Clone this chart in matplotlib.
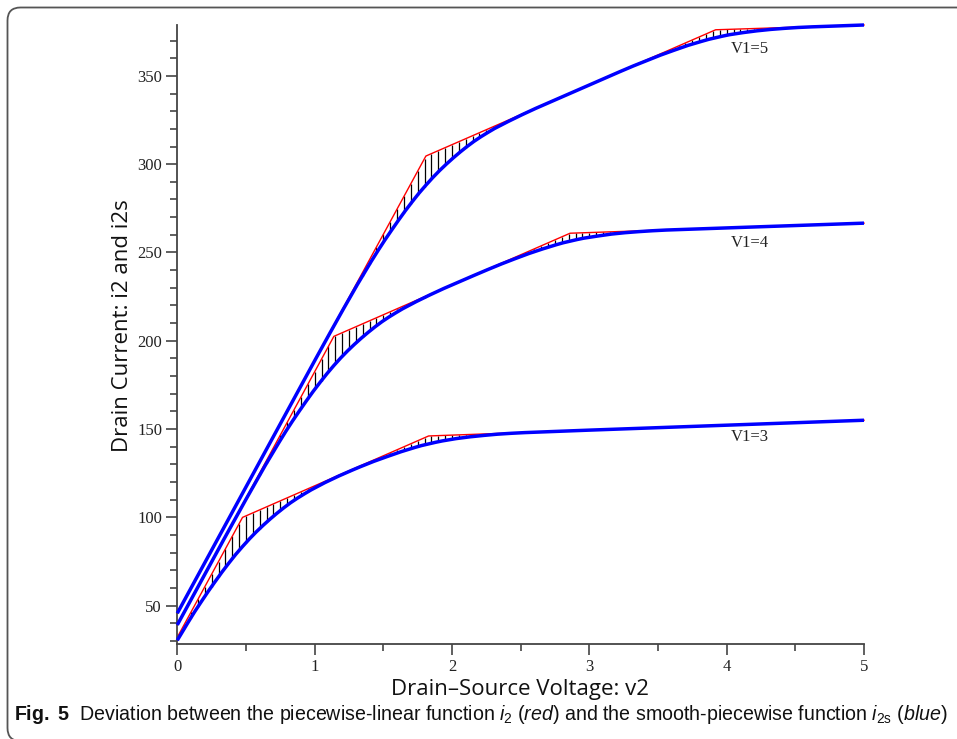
import matplotlib
matplotlib.use("Agg")
import numpy as np
import matplotlib.pyplot as plt
from matplotlib.patches import FancyBboxPatch
from matplotlib.ticker import MultipleLocator
from matplotlib import font_manager

# ========= data: piecewise-linear i2 (red) =========
v2_red_3 = [0.0, 0.475, 1.83, 5.0]
i2_red_3 = [32.1, 100.0, 146.1, 155.0]
v2_red_4 = [0.0, 1.14, 2.86, 5.0]
i2_red_4 = [39.1, 202.5, 260.9, 266.6]
v2_red_5 = [0.0, 1.81, 3.92, 5.0]
i2_red_5 = [45.7, 304.6, 376.1, 378.8]

# ========= data: smooth-piecewise i2s (blue) =========
v2_blue_3 = [0, 0.075, 0.125, 0.175, 0.225, 0.275, 0.325, 0.375, 0.425, 0.475,
             0.525, 0.575, 0.625, 0.675, 0.725, 0.775, 0.825, 0.875, 0.925, 0.975,
             1.075, 1.175, 1.275, 1.33, 1.43, 1.53, 1.63, 1.73, 1.78, 1.83,
             1.88, 1.93, 2.03, 2.13, 2.23, 2.33, 2.43, 2.53, 3.0, 4.0, 5.0]
i2s_blue_3 = [30.4, 40.1, 46.4, 52.3, 58.1, 63.6, 69.0, 74.1, 79.0, 83.5,
              87.8, 91.8, 95.5, 99.0, 102.3, 105.4, 108.3, 110.9, 113.3, 115.6,
              119.7, 123.4, 126.8, 128.6, 131.7, 134.5, 137.2, 139.6, 140.7, 141.6,
              142.5, 143.3, 144.6, 145.6, 146.4, 147.1, 147.6, 148.0, 149.4, 152.2, 155.0]

v2_blue_4 = [0, 0.34, 0.5, 0.64, 0.74, 0.79, 0.84, 0.89, 0.94, 0.99,
             1.04, 1.09, 1.14, 1.19, 1.24, 1.29, 1.34, 1.39, 1.44, 1.49,
             1.54, 1.59, 1.64, 1.74, 1.84, 1.94, 2.16, 2.26, 2.36, 2.46,
             2.56, 2.66, 2.76, 2.81, 2.86, 2.91, 2.96, 3.06, 3.16, 3.26,
             3.36, 3.46, 3.56, 4.0, 5.0]
i2s_blue_4 = [39.1, 87.7, 110.2, 129.4, 142.4, 148.7, 154.7, 160.4, 166.0, 171.4,
              176.5, 181.4, 186.0, 190.3, 194.3, 198.0, 201.5, 204.8, 207.9, 210.8,
              213.4, 215.8, 218.1, 222.2, 226.0, 229.6, 237.0, 240.3, 243.5, 246.5,
              249.4, 252.0, 254.4, 255.5, 256.4, 257.3, 258.1, 259.3, 260.4, 261.2,
              261.8, 262.3, 262.7, 263.9, 266.6]

v2_blue_5 = [0, 0.9, 1.01, 1.11, 1.21, 1.31, 1.36, 1.41, 1.46, 1.51,
             1.56, 1.61, 1.66, 1.71, 1.76, 1.81, 1.86, 1.91, 1.96, 2.01,
             2.06, 2.11, 2.16, 2.21, 2.26, 2.31, 2.41, 2.51, 2.61, 3.22,
             3.32, 3.42, 3.52, 3.62, 3.72, 3.82, 3.87, 3.92, 3.97, 4.02,
             4.12, 4.22, 4.32, 4.42, 4.52, 4.62, 5.0]
i2s_blue_5 = [45.7, 174.4, 190.1, 204.2, 218.1, 231.7, 238.2, 244.7, 250.9, 256.9,
              262.6, 268.2, 273.6, 278.7, 283.6, 288.1, 292.4, 296.4, 300.1, 303.6,
              306.9, 310.0, 312.9, 315.5, 317.9, 320.2, 324.2, 328.0, 331.6, 352.3,
              355.6, 358.7, 361.8, 364.6, 367.3, 369.6, 370.7, 371.6, 372.5, 373.3,
              374.5, 375.5, 376.3, 376.9, 377.4, 377.75, 378.8]

curve_labels = ["V1=3", "V1=4", "V1=5"]
label_pos = [(4.17, 145.5), (4.17, 255.4), (4.17, 365.3)]

x_ticks = [0, 1, 2, 3, 4, 5]
y_ticks = [50, 100, 150, 200, 250, 300, 350]

# ========= fonts =========
plt.rcParams["font.family"] = "Liberation Serif"
try:
    font_manager.findfont("Liberation Sans Narrow", fallback_to_default=False)
    cap_font = "Liberation Sans Narrow"
    cap_size = 16
except ValueError:
    cap_font = "Liberation Sans"
    cap_size = 14.1
plt.rcParams["mathtext.fontset"] = "custom"
plt.rcParams["mathtext.rm"] = cap_font
plt.rcParams["mathtext.it"] = cap_font + ":italic"
plt.rcParams["mathtext.bf"] = cap_font + ":bold"

W, H = 957, 739
fig = plt.figure(figsize=(W / 100, H / 100), dpi=100)
ax = fig.add_axes([177.3 / W, (H - 644) / H, (864 - 177.3) / W, (644 - 25) / H])

# ========= curves =========
curves = [
    (v2_red_3, i2_red_3, v2_blue_3, i2s_blue_3),
    (v2_red_4, i2_red_4, v2_blue_4, i2s_blue_4),
    (v2_red_5, i2_red_5, v2_blue_5, i2s_blue_5),
]
hatch_x = np.arange(0, 5.0001, 0.05)

for xr, yr, xb, yb in curves:
    top = np.interp(hatch_x, xr, yr)
    bot = np.interp(hatch_x, xb, yb)
    m = (top - bot) > 0.2
    ax.vlines(hatch_x[m], bot[m], top[m], color="black", lw=0.9, zorder=1)
    ax.plot(xr, yr, color="#ff0000", lw=1.0, zorder=2, clip_on=False)
    ax.plot(xb, yb, color="#0000ff", lw=2.5, zorder=3, clip_on=False,
            solid_capstyle="butt")

for txt, (lx, ly) in zip(curve_labels, label_pos):
    ax.text(lx, ly, txt, fontsize=12, color="#222222", ha="center", va="center")

# ========= axes =========
ax.set_xlim(0, 5)
ax.set_ylim(28.3, 378.8)
ax.set_xticks(x_ticks)
ax.set_yticks(y_ticks)
ax.xaxis.set_minor_locator(MultipleLocator(0.5))
ax.yaxis.set_minor_locator(MultipleLocator(10))
for s in ["top", "right"]:
    ax.spines[s].set_visible(False)
for s in ["left", "bottom"]:
    ax.spines[s].set_color("#444444")
    ax.spines[s].set_linewidth(1.3)
ax.tick_params(which="major", length=8, width=1.2, color="#444444",
               labelsize=12, labelcolor="#222222", pad=3)
ax.tick_params(which="minor", length=5, width=1.2, color="#444444")
ax.patch.set_visible(False)

fig.text(520 / W, 1 - 689 / H, "Drain\u2013Source Voltage: v2", family="Open Sans",
         fontsize=16, ha="center", va="center", color="#111111")
fig.text(122 / W, 1 - 326 / H, "Drain Current: i2 and i2s", family="Open Sans",
         fontsize=16, rotation=90, ha="center", va="center", color="#111111")

caption = (r"$\mathbf{Fig.\ 5}$  Deviation between the piecewise-linear function "
           r"$i_2$ ($\mathit{red}$) and the smooth-piecewise function "
           r"$i_{2\mathrm{s}}$ ($\mathit{blue}$)")
fig.text(14 / W, 1 - 714 / H, caption, family=cap_font, fontsize=cap_size,
         ha="left", va="center", color="#111111")

# rounded frame round the whole figure
frame = FancyBboxPatch((7.5, -2), 990, H - 7.5 + 2, boxstyle="round,pad=0,rounding_size=13",
                       transform=None, facecolor="none", edgecolor="#555555", lw=1.3)
fig.add_artist(frame)

fig.savefig("out.png", dpi=100)
